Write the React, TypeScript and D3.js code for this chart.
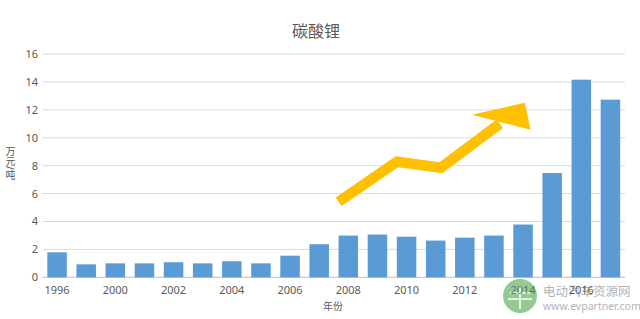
import React from "react";
import * as d3 from "d3";

const years = ["1996","1998","2000","2001","2002","2003","2004","2005","2006","2007","2008","2009","2010","2011","2012","2013","2014","2015","2016","2017"];
const prices = [1.79,0.93,1.0,1.0,1.08,1.0,1.15,1.0,1.55,2.37,2.99,3.06,2.91,2.63,2.84,2.99,3.78,7.47,14.16,12.73];
const yTicks = [0,2,4,6,8,10,12,14,16];
// decorative trend arrow in data space: [category index, value]
const arrowShaft: [number, number][] = [[9.67,5.41],[11.67,8.28],[13.18,7.85],[15.2,11.0]];
const arrowHead: [number, number][] = [[14.24,11.65],[16.06,12.5],[16.26,10.57]];

const W = 640, H = 319;
const M = { left: 42.5, right: 625, top: 54, bottom: 277.3 };

export default function App() {
  const x = d3.scaleBand<string>().domain(years).range([M.left, M.right]).paddingInner(0.33).paddingOuter(0.165);
  const y = d3.scaleLinear().domain([0, 16]).range([M.bottom, M.top]);
  const step = x.step();
  const cx = (i: number) => x(years[0])! + x.bandwidth() / 2 + i * step;
  const px = (p: [number, number]) => [cx(p[0]), y(p[1])] as [number, number];
  const shaftLine = d3.line()(arrowShaft.map(px))!;
  const headPts = arrowHead.map(px).map(p => p.join(",")).join(" ");
  const font = "'Noto Sans','Noto Sans CJK SC',sans-serif";
  return (
    <svg width={W} height={H} style={{ position: "absolute", left: 0, top: 0, background: "#fff" }} fontFamily={font}>
      <rect width={W} height={H} fill="#fff" />
      <text x={316} y={37} textAnchor="middle" fontSize={16} fill="#595959">碳酸锂</text>
      {yTicks.map(t => (
        <g key={t}>
          <line x1={M.left} x2={M.right} y1={y(t)} y2={y(t)} stroke={t === 0 ? "#bfbfbf" : "#d9d9d9"} strokeWidth={1} />
          <text x={38} y={y(t) + 4} textAnchor="end" fontSize={11} fill="#595959">{t}</text>
        </g>
      ))}
      {years.map((yr, i) => (
        <rect key={yr} x={x(yr)} y={y(prices[i])} width={x.bandwidth()} height={y(0) - y(prices[i])} fill="#5B9BD5" />
      ))}
      <g opacity={0.75}>
        <circle cx={520} cy={296} r={17} fill="#6fba6f" />
        <line x1={510} x2={530} y1={293} y2={293} stroke="#fff" strokeWidth={1.5} />
        <line x1={508} x2={532} y1={299} y2={299} stroke="#fff" strokeWidth={1.5} />
        <line x1={520} x2={520} y1={287} y2={309} stroke="#fff" strokeWidth={1.5} />
        <text x={543} y={296} fontSize={12.5} fill="#9a9a9a">电动汽车资源网</text>
        <text x={543} y={310} fontSize={10.5} fill="#9a9a9a">www.evpartner.com</text>
      </g>
      {years.map((yr, i) => i % 2 === 0 ? (
        <text key={yr} x={x(yr)! + x.bandwidth() / 2} y={294} textAnchor="middle" fontSize={11} fill="#595959" opacity={i === 16 ? 0.8 : 1}>{yr}</text>
      ) : null)}
      <text x={333} y={310} textAnchor="middle" fontSize={10} fill="#595959">年份</text>
      <text x={10} y={146} fontSize={10} fill="#595959" style={{ writingMode: "vertical-rl" } as any}>万元/吨</text>
      <path d={shaftLine} fill="none" stroke="#FFC000" strokeWidth={10.5} strokeLinejoin="miter" />
      <polygon points={headPts} fill="#FFC000" />
    </svg>
  );
}
